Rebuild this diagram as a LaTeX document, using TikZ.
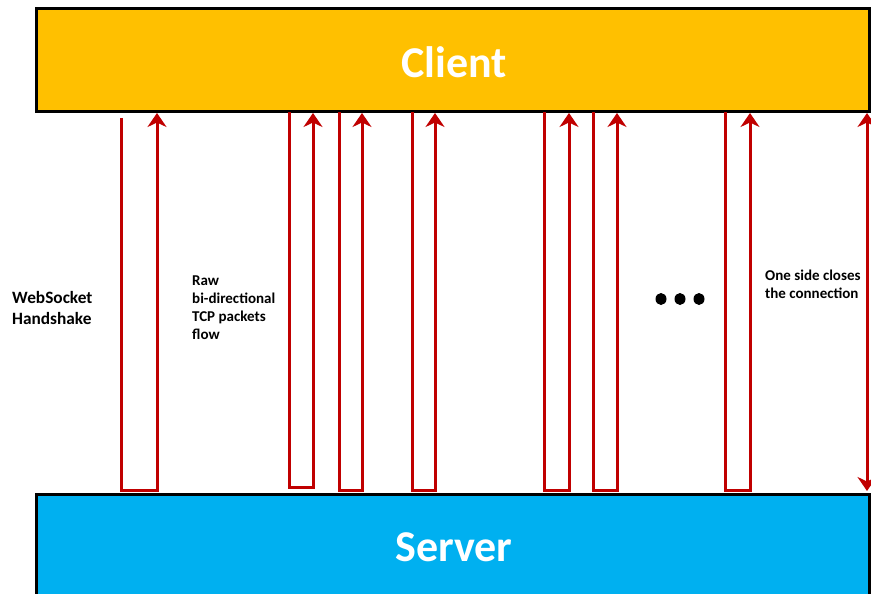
\documentclass[tikz,border=0pt]{standalone}
\usepackage{fontspec}
\setmainfont{Carlito}
\usetikzlibrary{arrows.meta}
\definecolor{clientc}{HTML}{FFC000}
\definecolor{serverc}{HTML}{00B0F0}
\definecolor{flowc}{HTML}{C00000}
\begin{document}
\begin{tikzpicture}[x=1pt,y=-1pt,
  box/.style={draw=black, line width=3pt, inner sep=0pt, minimum width=833pt},
  title/.style={text=white, font=\bfseries\fontsize{44}{48}\selectfont},
  flow/.style={draw=flowc, line width=3pt, line join=miter,
    -{Stealth[length=14pt,width=19pt,inset=4.5pt]}},
  both/.style={draw=flowc, line width=3pt,
    {Stealth[length=14pt,width=19pt,inset=4.5pt]}-{Stealth[length=14pt,width=19pt,inset=4.5pt]}},
  lbl/.style={align=left, anchor=west, inner sep=0pt, font=\bfseries\fontsize{15}{18}\selectfont}]
\useasboundingbox (0,0) rectangle (871,594);
\node[box, fill=clientc, minimum height=103pt] (client) at (452.5,60.5) {};
\node[title] (clientt) at (454,62) {Client};
\node[box, fill=serverc, minimum height=206pt, anchor=north] (server) at (452.5,493) {};
\node[title] (servert) at (454,547) {Server};
% flows
\foreach \xl/\xr/\yt/\yb in {121/157/118/490.5, 289/313/112/487.5, 339/362/112/490.5,
  412/435/112/490.5, 544/569/112/490.5, 593/617/112/490.5, 725/750/112/490.5}{
  \draw[flow] (\xl,\yt) -- (\xl,\yb) -- (\xr,\yb) -- (\xr,113);
}
\coordinate (ctop) at (867,113);
\coordinate (cbot) at (867,491);
\draw[both] (ctop) -- (cbot);
% labels
\node[lbl, font=\bfseries\fontsize{17.3}{21}\selectfont] (hs) at (12,308) {WebSocket\\Handshake};
\node[lbl] (raw) at (192,308) {Raw\\bi-directional\\TCP packets\\flow};
\node[lbl] (close) at (765,284) {One side closes\\the connection};
\foreach \x in {661,680,699}{
  \fill[black] (\x,299) ellipse (5.5pt and 6pt);
}
\end{tikzpicture}
\end{document}
